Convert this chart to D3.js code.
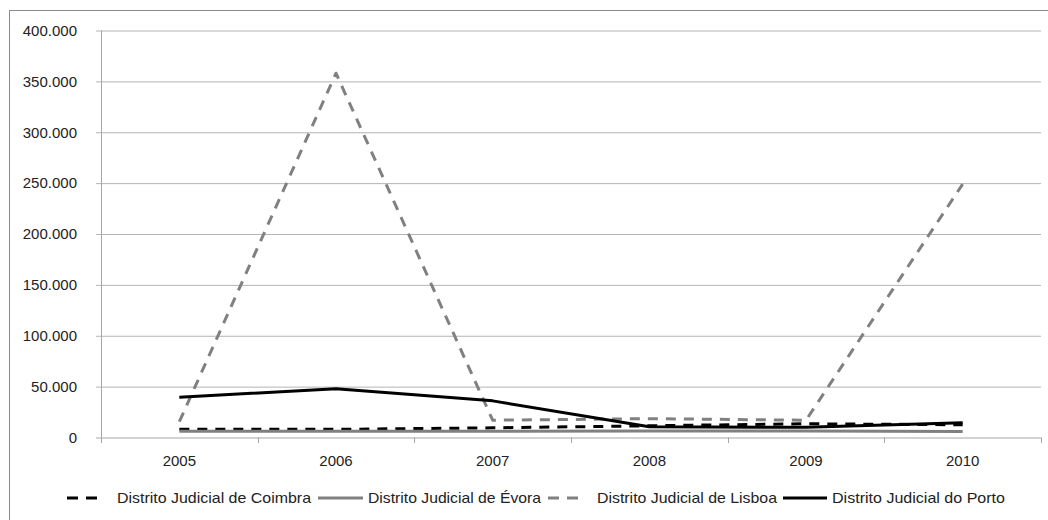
<!DOCTYPE html>
<html>
<head>
<meta charset="utf-8">
<script src="https://cdn.jsdelivr.net/npm/d3@7"></script>
<style>
  html, body { margin: 0; padding: 0; background: #fff; }
  svg { display: block; font-family: "Liberation Sans", Arial, sans-serif; }
</style>
</head>
<body>
<svg id="chart" width="1048" height="520"></svg>
<script>
// Anos e valores por distrito judicial
const years = ["2005", "2006", "2007", "2008", "2009", "2010"];
const coimbra = [8000, 8000, 9500, 11500, 13500, 12500];
const evora = [6200, 6200, 6200, 6300, 6400, 6000];
const lisboa = [15500, 358000, 17000, 18500, 17000, 249000];
const porto = [39500, 48000, 36000, 10500, 10000, 14500];
const yTicks = [0, 50000, 100000, 150000, 200000, 250000, 300000, 350000, 400000];
const seriesNames = ["Distrito Judicial de Coimbra", "Distrito Judicial de Évora", "Distrito Judicial de Lisboa", "Distrito Judicial do Porto"];

const series = [
  { name: seriesNames[0], values: coimbra, color: "#000000", dash: "10,8" },
  { name: seriesNames[1], values: evora, color: "#808080", dash: null },
  { name: seriesNames[2], values: lisboa, color: "#808080", dash: "10,8" },
  { name: seriesNames[3], values: porto, color: "#000000", dash: null }
];

const svg = d3.select("#chart");
const plot = { left: 101, right: 1041, top: 30.5, bottom: 437.5 };

// frame around the chart area
svg.append("rect")
  .attr("x", 9.5).attr("y", 10.5)
  .attr("width", 1100).attr("height", 600)
  .attr("fill", "none").attr("stroke", "#8c8c8c").attr("stroke-width", 1);

const x = d3.scaleBand().domain(years).range([plot.left, plot.right]);
const y = d3.scaleLinear().domain([0, 400000]).range([plot.bottom, plot.top]);

const fmt = v => v === 0 ? "0" : d3.format(",")(v).replace(/,/g, ".");

// horizontal gridlines with short left ticks
const yAxis = d3.axisLeft(y).tickValues(yTicks).tickFormat(fmt)
  .tickSize(-(plot.right - plot.left)).tickPadding(24);
const gy = svg.append("g").attr("transform", `translate(${plot.left},0)`).call(yAxis);
gy.attr("font-size", null).attr("font-family", null);
gy.select(".domain").remove();
gy.selectAll(".tick line")
  .attr("x1", -5)
  .attr("stroke", "#b4b4b4");
gy.selectAll(".tick text")
  .attr("fill", "#222").style("font-size", "15px");
gy.selectAll(".tick").filter(d => d === 0).select("line").attr("stroke", "#a6a6a6");

// vertical axis line
svg.append("line")
  .attr("x1", plot.left + 0.5).attr("x2", plot.left + 0.5)
  .attr("y1", plot.top).attr("y2", plot.bottom)
  .attr("stroke", "#a6a6a6");

// category axis: tick marks between years
const tickPos = years.map(d => x(d)).concat([plot.right]);
svg.append("g").selectAll("line").data(tickPos).join("line")
  .attr("x1", d => Math.round(d) + 0.5).attr("x2", d => Math.round(d) + 0.5)
  .attr("y1", plot.bottom).attr("y2", plot.bottom + 5.5)
  .attr("stroke", "#a6a6a6");
svg.append("g").selectAll("text").data(years).join("text")
  .attr("x", d => x(d) + x.bandwidth() / 2)
  .attr("y", 466)
  .attr("text-anchor", "middle")
  .attr("fill", "#222").style("font-size", "15px")
  .text(d => d);

// series lines
const line = d3.line()
  .x((d, i) => x(years[i]) + x.bandwidth() / 2)
  .y(d => y(d));

svg.append("g").selectAll("path").data(series).join("path")
  .attr("d", d => line(d.values))
  .attr("fill", "none")
  .attr("stroke", d => d.color)
  .attr("stroke-width", 3)
  .attr("stroke-dasharray", d => d.dash)
  .attr("stroke-linejoin", "round");

// legend
const legendItems = [
  { s: series[0], x1: 67, x2: 101, tx: 117, tw: 194 },
  { s: series[1], x1: 318, x2: 363, tx: 368, tw: 173 },
  { s: series[2], x1: 548, x2: 586, tx: 597, tw: 180 },
  { s: series[3], x1: 783, x2: 827, tx: 832, tw: 173 }
];
const lg = svg.append("g");
lg.selectAll("line").data(legendItems).join("line")
  .attr("x1", d => d.x1).attr("x2", d => d.x2)
  .attr("y1", 498).attr("y2", 498)
  .attr("stroke", d => d.s.color)
  .attr("stroke-width", 3)
  .attr("stroke-dasharray", d => d.s.dash ? "11,8" : null);
lg.selectAll("text").data(legendItems).join("text")
  .attr("x", d => d.tx).attr("y", 503)
  .attr("textLength", d => d.tw)
  .attr("lengthAdjust", "spacingAndGlyphs")
  .attr("fill", "#222").style("font-size", "14.5px")
  .text(d => d.s.name);
</script>
</body>
</html>
